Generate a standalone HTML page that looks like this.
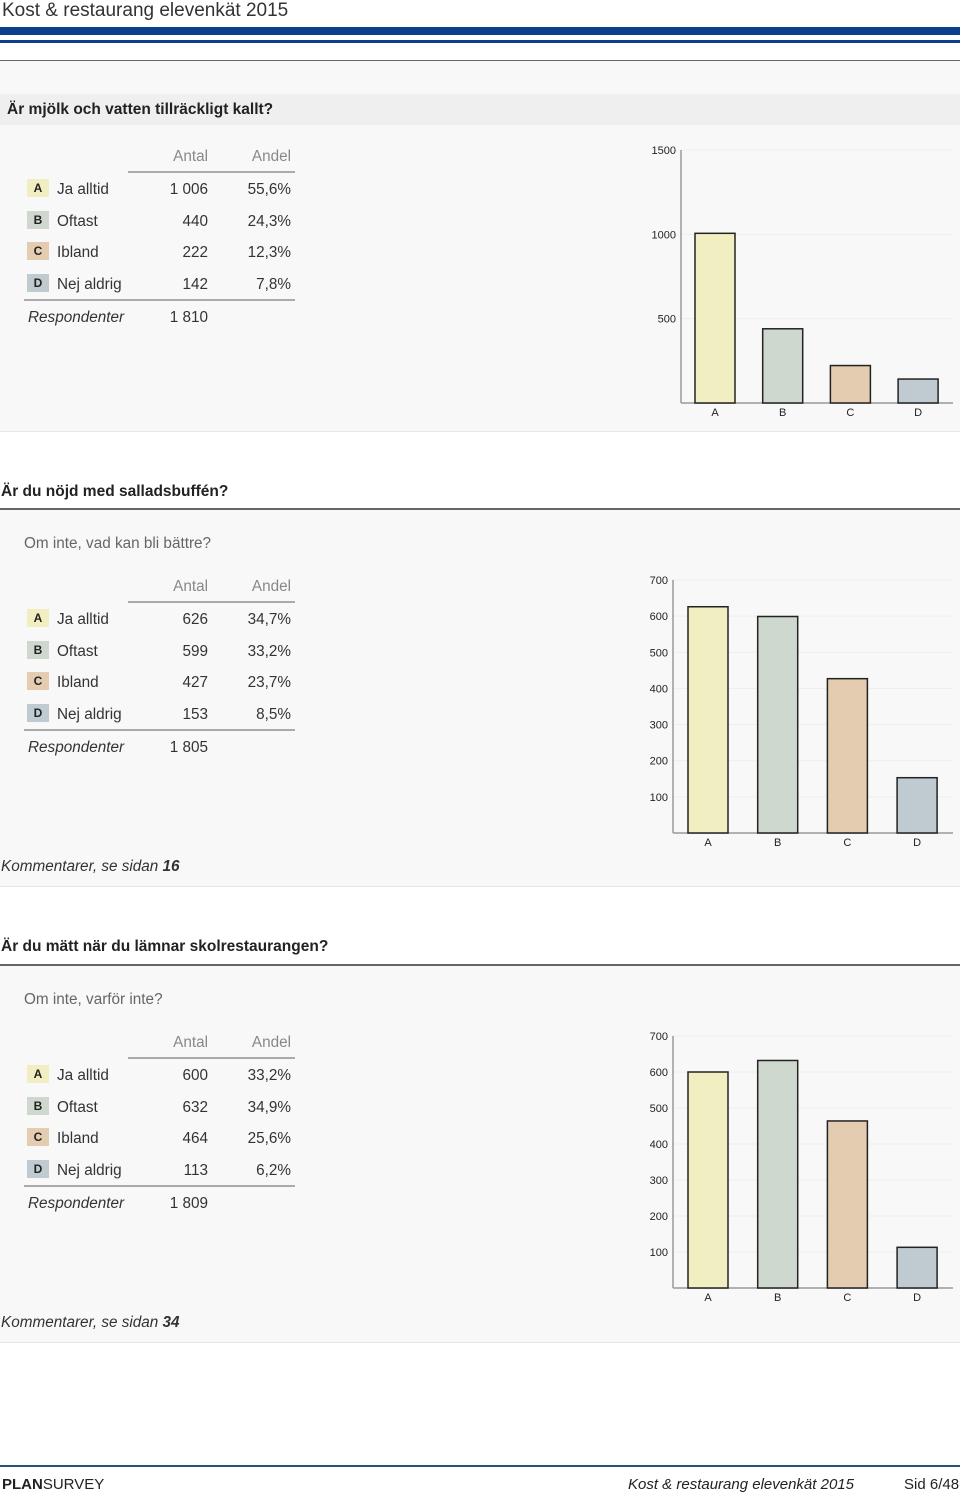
<!DOCTYPE html>
<html><head><meta charset="utf-8">
<style>
body{margin:0;width:960px;height:1493px;position:relative;background:#fff;font-family:"Liberation Sans",Arial,sans-serif;color:#333;overflow:hidden}
.a{position:absolute;white-space:nowrap}
.sec{position:absolute;left:0;width:960px;background:#f8f8f8;border-bottom:1px solid #e6e6e6}
.q{font-weight:bold;font-size:15.5px;color:#222}
.t{font-size:15.3px}
.bd{position:absolute;width:22px;height:18px;font-size:12px;font-weight:bold;text-align:center;line-height:18px;color:#222}
</style></head><body>
<div class="a" style="left:2px;top:0px;font-size:19px;color:#333">Kost &amp; restaurang elevenkät 2015</div>
<div class="a" style="left:0;top:27px;width:960px;height:8px;background:#0b3e8c"></div>
<div class="a" style="left:0;top:40px;width:960px;height:3px;background:#0b3e8c"></div>
<div class="a" style="left:0;top:60px;width:960px;height:1px;background:#666"></div>

<div class="sec" style="top:61px;height:370px"></div>
<div class="a" style="left:0;top:94px;width:960px;height:31px;background:#efefef"></div>
<div class="a q" style="left:7px;top:101px">Är mjölk och vatten tillräckligt kallt?</div>

<div class="a q" style="left:1px;top:483px">Är du nöjd med salladsbuffén?</div>
<div class="a" style="left:0;top:508px;width:960px;height:2px;background:#666"></div>
<div class="sec" style="top:510px;height:376px"></div>
<div class="a t" style="left:24px;top:535px;color:#666">Om inte, vad kan bli bättre?</div>
<div class="a t" style="left:1px;top:858px;font-style:italic">Kommentarer, se sidan <b>16</b></div>

<div class="a q" style="left:1px;top:938px">Är du mätt när du lämnar skolrestaurangen?</div>
<div class="a" style="left:0;top:964px;width:960px;height:2px;background:#666"></div>
<div class="sec" style="top:966px;height:376px"></div>
<div class="a t" style="left:24px;top:991px;color:#666">Om inte, varför inte?</div>
<div class="a t" style="left:1px;top:1314px;font-style:italic">Kommentarer, se sidan <b>34</b></div>

<div class="a" style="left:0;top:1465px;width:960px;height:2px;background:#2b5382"></div>
<div class="a" style="left:2px;top:1476px;font-size:15px;color:#222"><b>PLAN</b>SURVEY</div>
<div class="a" style="left:628px;top:1476px;font-size:15px;font-style:italic;color:#222">Kost &amp; restaurang elevenkät 2015</div>
<div class="a" style="left:904px;top:1476px;font-size:15px;color:#222">Sid 6/48</div>

<div id="tables"></div>
<svg id="charts" width="960" height="1493" style="position:absolute;left:0;top:0"></svg>

<script>
const labels = ["Ja alltid","Oftast","Ibland","Nej aldrig"];
const letters = ["A","B","C","D"];
const colors = ["#f1efc1","#cfd8ce","#e3ccb0","#bfcbd1"];
const q1Counts = [1006,440,222,142];
const q1Shares = ["55,6%","24,3%","12,3%","7,8%"];
const q1Resp = "1 810";
const q2Counts = [626,599,427,153];
const q2Shares = ["34,7%","33,2%","23,7%","8,5%"];
const q2Resp = "1 805";
const q3Counts = [600,632,464,113];
const q3Shares = ["33,2%","34,9%","25,6%","6,2%"];
const q3Resp = "1 809";
const ticks1 = [500,1000,1500];
const ticks23 = [100,200,300,400,500,600,700];

function fmt(n){return n>=1000?Math.floor(n/1000)+" "+String(n%1000).padStart(3,"0"):String(n);}

const T=document.getElementById("tables");
function table(top, counts, shares, resp){
  const add=(html,style,name)=>{const d=document.createElement("div");d.className="a t";d.style.cssText=style;d.innerHTML=html;
    
    
    T.appendChild(d);return d;};
  add("Antal","left:148px;width:60px;top:"+(top-8)+"px;text-align:right;color:#888","header-antal");
  add("Andel","left:230px;width:61px;top:"+(top-8)+"px;text-align:right;color:#888","header-andel");
  add("","left:128px;top:"+(top+15)+"px;width:167px;height:2px;background:#aaa","header-rule");
  for(let i=0;i<4;i++){
    const y=top+33+i*31.5;
    const b=document.createElement("div");b.className="bd";b.textContent=letters[i];
    b.style.cssText="left:27px;top:"+(y-10)+"px;background:"+colors[i];
    
    
    T.appendChild(b);
    add(labels[i],"left:57px;top:"+(y-8)+"px","option-label");
    add(fmt(counts[i]),"left:140px;width:68px;top:"+(y-8)+"px;text-align:right","option-count");
    add(shares[i],"left:230px;width:61px;top:"+(y-8)+"px;text-align:right","option-share");
  }
  add("","left:24px;top:"+(top+143)+"px;width:271px;height:2px;background:#aaa","footer-rule");
  add("<i>Respondenter</i>","left:28px;top:"+(top+153)+"px","respondents-label");
  add(resp,"left:140px;width:68px;top:"+(top+153)+"px;text-align:right","respondents-count");
}
table(156,q1Counts,q1Shares,q1Resp);
table(586,q2Counts,q2Shares,q2Resp);
table(1042,q3Counts,q3Shares,q3Resp);

const S=document.getElementById("charts");const NS="http://www.w3.org/2000/svg";
function el(tag,attrs,name){const e=document.createElementNS(NS,tag);for(const k in attrs)e.setAttribute(k,attrs[k]);
  
  
  S.appendChild(e);return e;}
function chart(cfg, values, ticks){
  const y=v=>cfg.y0-(v/cfg.max)*(cfg.y0-cfg.yTop);
  const x=i=>cfg.firstC+i*cfg.step;
  for(const t of ticks){
    el("line",{x1:cfg.x0,x2:cfg.right,y1:y(t),y2:y(t),stroke:"#eeeeee","stroke-width":1},"gridline");
    const tx=el("text",{x:cfg.x0-5,y:y(t)+4,"text-anchor":"end","font-size":11,fill:"#222"},"y-tick-label");tx.textContent=t;
  }
  el("line",{x1:cfg.x0,x2:cfg.x0,y1:cfg.yTop,y2:cfg.y0,stroke:"#999","stroke-width":1.5},"y-axis");
  el("line",{x1:cfg.x0,x2:cfg.right,y1:cfg.y0,y2:cfg.y0,stroke:"#999","stroke-width":1.5},"x-axis");
  values.forEach((v,i)=>{
    el("rect",{x:x(i)-20,y:y(v),width:40,height:cfg.y0-y(v),fill:colors[i],stroke:"#222","stroke-width":1.5},"bar-"+letters[i].toLowerCase());
    const l=el("text",{x:x(i),y:cfg.y0+13,"text-anchor":"middle","font-size":11,fill:"#222"},"x-tick-label");l.textContent=letters[i];
  });
}
chart({x0:681,right:953,y0:403,yTop:150,max:1500,firstC:715,step:67.7},q1Counts,ticks1);
chart({x0:673,right:953,y0:833,yTop:580,max:700,firstC:708,step:69.7},q2Counts,ticks23);
chart({x0:673,right:953,y0:1288,yTop:1036,max:700,firstC:708,step:69.7},q3Counts,ticks23);
</script>
</body></html>
